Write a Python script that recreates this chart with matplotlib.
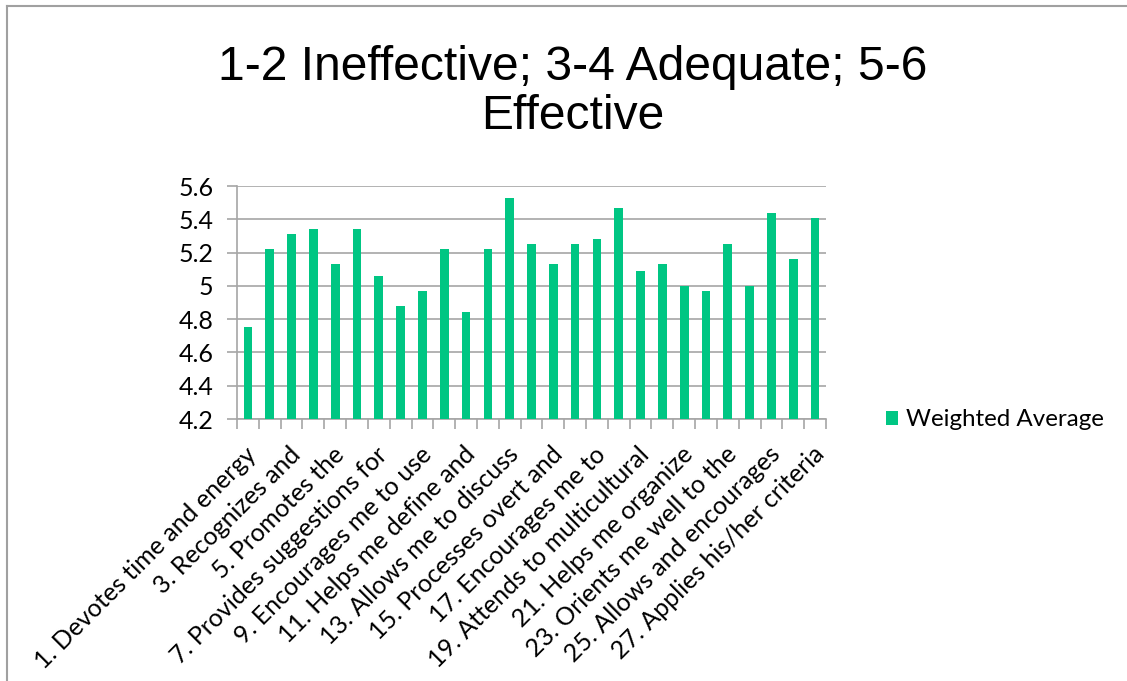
import matplotlib.pyplot as plt
from matplotlib.lines import Line2D
from matplotlib.patches import Patch
import matplotlib.transforms as mtransforms
import numpy as np

# Weighted average per item (27 items, every other label shown)
item_numbers = list(range(1, 28))
weighted_average = [4.75, 5.22, 5.31, 5.34, 5.13, 5.34, 5.06, 4.88, 4.97, 5.22,
                    4.84, 5.22, 5.53, 5.25, 5.13, 5.25, 5.28, 5.47, 5.09, 5.13,
                    5.00, 4.97, 5.25, 5.00, 5.44, 5.16, 5.41]
shown_labels = ["1. Devotes time and energy", "3. Recognizes and", "5. Promotes the",
                "7. Provides suggestions for", "9. Encourages me to use",
                "11. Helps me define and", "13. Allows me to discuss",
                "15. Processes overt and", "17. Encourages me to",
                "19. Attends to multicultural", "21. Helps me organize",
                "23. Orients me well to the", "25. Allows and encourages",
                "27. Applies his/her criteria"]
y_ticks = [4.2, 4.4, 4.6, 4.8, 5.0, 5.2, 5.4, 5.6]
y_tick_labels = ["4.2", "4.4", "4.6", "4.8", "5", "5.2", "5.4", "5.6"]

bar_color = "#00C683"
grid_color = "#A6A6A6"
label_font = "Lato"

fig = plt.figure(figsize=(11.27, 6.81), dpi=100)
ax = fig.add_axes([237 / 1127, 1 - 419 / 681, 589 / 1127, 233 / 681])

x = np.arange(len(item_numbers))
ax.bar(x, [v - 4.2 for v in weighted_average], bottom=4.2, width=0.4,
       color=bar_color, zorder=3, label="Weighted Average")

ax.set_xlim(-0.5, len(item_numbers) - 0.5)
ax.set_ylim(4.2, 5.6)
ax.set_yticks(y_ticks)
ax.set_yticklabels(y_tick_labels, fontsize=18, family=label_font)
ax.yaxis.grid(True, color=grid_color, linewidth=1.2, zorder=0)

# category boundaries as tick marks, labels on every other category
ax.set_xticks(np.arange(-0.5, len(item_numbers)), minor=True)
ax.set_xticks(x[::2])
ax.set_xticklabels(shown_labels, rotation=45, ha="right", va="top",
                   rotation_mode="anchor", fontsize=18, family=label_font)
ax.tick_params(axis="x", which="major", length=0, pad=17)
ax.tick_params(axis="x", which="minor", length=7, color=grid_color, width=1.2)
ax.tick_params(axis="y", length=7, color=grid_color, width=1.2, pad=10)

shift = mtransforms.ScaledTranslation(-3 / 100, 0, fig.dpi_scale_trans)
for lbl in ax.get_xticklabels():
    lbl.set_transform(lbl.get_transform() + shift)

for side in ["top", "right"]:
    ax.spines[side].set_visible(False)
ax.spines["left"].set_color(grid_color)
ax.spines["bottom"].set_color(grid_color)
ax.spines["left"].set_linewidth(1.2)
ax.spines["bottom"].set_linewidth(1.2)

fig.text(573 / 1127, 1 - 92 / 681, "1-2 Ineffective; 3-4 Adequate; 5-6\nEffective",
         ha="center", va="center", fontsize=34.6, family="Liberation Sans",
         linespacing=1.12)

handles = [Patch(facecolor=bar_color, label="Weighted Average")]
fig.legend(handles=handles, loc="center left", bbox_to_anchor=(864 / 1127, 1 - 420 / 681),
           frameon=False, prop={"family": label_font, "size": 17.4},
           handlelength=0.5, handleheight=0.5, handletextpad=0.33)

# slide frame
fig.add_artist(Line2D([7 / 1127, 7 / 1127], [0, 1 - 6 / 681], transform=fig.transFigure,
                      color="#A0A0A0", linewidth=1.5))
fig.add_artist(Line2D([7 / 1127, 1], [1 - 6 / 681, 1 - 6 / 681], transform=fig.transFigure,
                      color="#A0A0A0", linewidth=1.5))

fig.savefig("out.png", dpi=100)
